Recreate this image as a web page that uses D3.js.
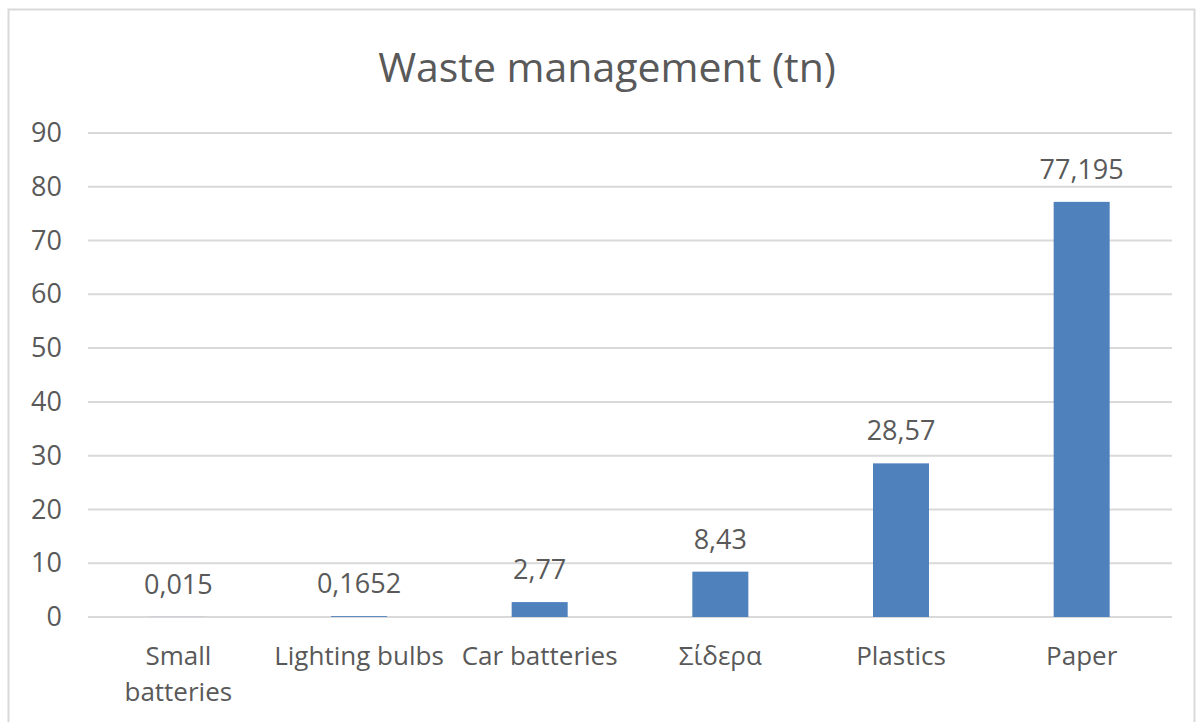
<!DOCTYPE html>
<html>
<head>
<meta charset="utf-8">
<script src="https://cdn.jsdelivr.net/npm/d3@7"></script>
<style>
  html, body { margin: 0; padding: 0; background: #fff; }
  svg { display: block; }
  text { font-family: "Open Sans", "Noto Sans", sans-serif; fill: #595959; }
</style>
</head>
<body>
<svg id="chart" width="1203" height="722"></svg>
<script>
const categories = [["Small", "batteries"], ["Lighting bulbs"], ["Car batteries"], ["Σίδερα"], ["Plastics"], ["Paper"]];
const values = [0.015, 0.1652, 2.77, 8.43, 28.57, 77.195];
const valueLabels = ["0,015", "0,1652", "2,77", "8,43", "28,57", "77,195"];
const yTicks = [0, 10, 20, 30, 40, 50, 60, 70, 80, 90];
const title = "Waste management (tn)";

const svg = d3.select("#chart");
const m = { left: 88, right: 1172, top: 133, bottom: 617 };

// outer border
svg.append("rect")
  .attr("x", 8.5).attr("y", 9.5)
  .attr("width", 1186).attr("height", 730)
  .attr("fill", "#fff").attr("stroke", "#d9d9d9").attr("stroke-width", 2);

svg.append("text")
  .attr("x", 607).attr("y", 82)
  .attr("text-anchor", "middle")
  .attr("font-size", 41)
  .text(title);

const keys = categories.map(c => c.join(" "));
const x = d3.scaleBand().domain(keys).range([m.left, m.right]).paddingInner(0.69).paddingOuter(0.345);
const y = d3.scaleLinear().domain([0, 90]).range([m.bottom, m.top]);

// gridlines
svg.append("g").selectAll("line").data(yTicks).join("line")
  .attr("x1", m.left).attr("x2", m.right)
  .attr("y1", d => y(d)).attr("y2", d => y(d))
  .attr("stroke", "#d9d9d9").attr("stroke-width", 2);

// y axis labels
const yAxis = d3.axisLeft(y).tickValues(yTicks).tickSize(0).tickPadding(0).tickFormat(d3.format("d"));
const gy = svg.append("g").attr("transform", `translate(62,0)`).call(yAxis);
gy.select(".domain").remove();
gy.selectAll("text").attr("font-size", 27).attr("fill", "#595959").attr("font-family", "'Open Sans', sans-serif");

// bars
svg.append("g").selectAll("rect").data(values).join("rect")
  .attr("x", (d, i) => x(keys[i]))
  .attr("width", x.bandwidth())
  .attr("y", d => y(d))
  .attr("height", d => y(0) - y(d))
  .attr("fill", "#4f81bd");

// value labels
svg.append("g").selectAll("text").data(values).join("text")
  .attr("x", (d, i) => x(keys[i]) + x.bandwidth() / 2)
  .attr("y", d => y(d) - 23)
  .attr("text-anchor", "middle")
  .attr("font-size", 27)
  .text((d, i) => valueLabels[i]);

// category labels
const cat = svg.append("g").selectAll("text").data(categories).join("text")
  .attr("x", (d, i) => x(keys[i]) + x.bandwidth() / 2)
  .attr("y", 665)
  .attr("text-anchor", "middle")
  .attr("font-size", 26);
cat.each(function(d, i) {
  const t = d3.select(this);
  const cx = x(keys[i]) + x.bandwidth() / 2;
  d.forEach((line, j) => {
    t.append("tspan").attr("x", cx).attr("dy", j === 0 ? 0 : 36).text(line);
  });
});
</script>
</body>
</html>
